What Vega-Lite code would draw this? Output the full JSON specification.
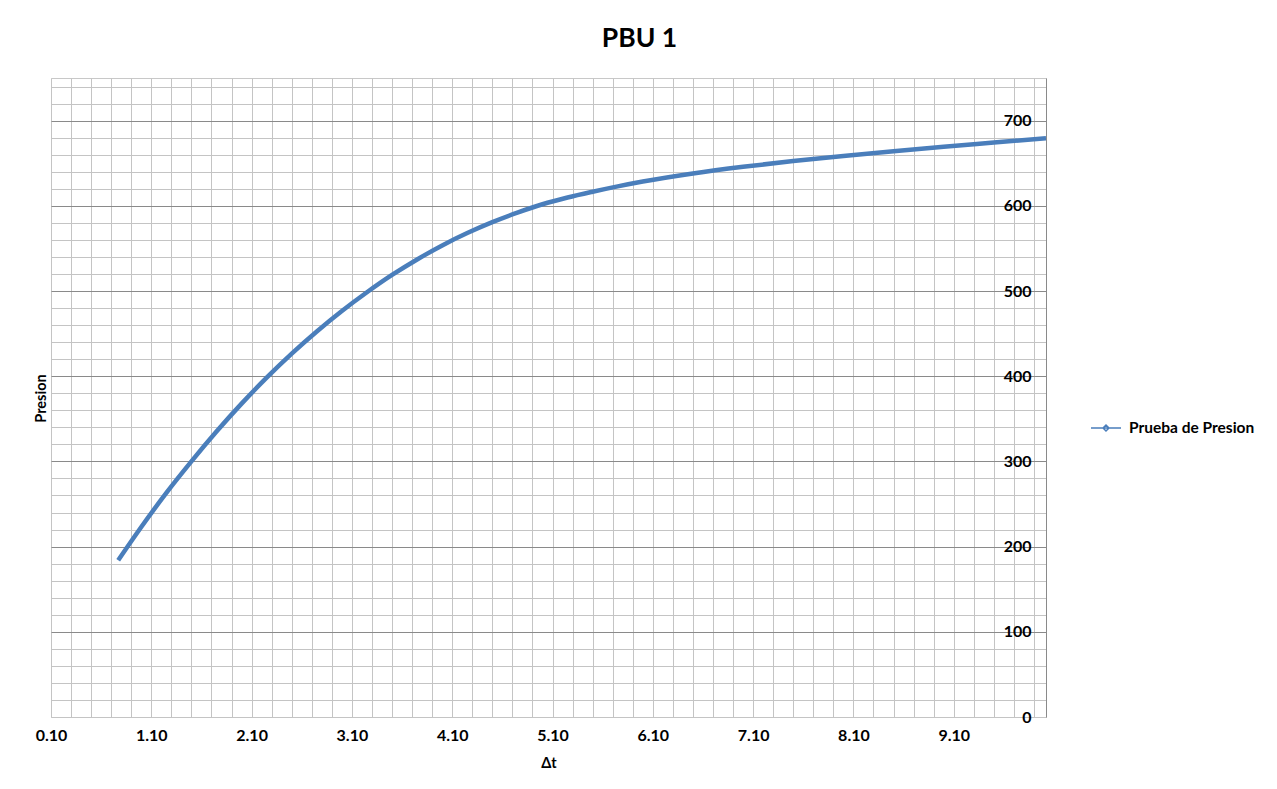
{
  "$schema": "https://vega.github.io/schema/vega-lite/v6.json",
  "width": 995,
  "height": 639,
  "autosize": {"type": "none"},
  "padding": {"left": 51, "top": 78, "right": 231, "bottom": 72},
  "background": "white",
  "title": {
    "text": "PBU 1",
    "font": "Lato",
    "fontSize": 26.5,
    "fontWeight": "bold",
    "color": "#000000",
    "anchor": "middle",
    "dx": 91,
    "offset": 26
  },
  "config": {
    "view": {"stroke": "#c8c8c8", "strokeWidth": 1},
    "axis": {
      "labelFont": "Lato",
      "labelFontWeight": "bold",
      "labelFontSize": 16,
      "labelColor": "#000000",
      "titleFont": "Lato",
      "titleFontWeight": "bold",
      "titleFontSize": 14.5,
      "titleColor": "#000000"
    },
    "legend": {
      "labelFont": "Lato",
      "labelFontWeight": "bold",
      "labelFontSize": 15.5,
      "labelColor": "#000000"
    }
  },
  "data": {
    "values": [
      {"dt": 0.77, "p": 184, "serie": "Prueba de Presion"},
      {"dt": 1.0, "p": 223, "serie": "Prueba de Presion"},
      {"dt": 1.25, "p": 263, "serie": "Prueba de Presion"},
      {"dt": 1.5, "p": 300, "serie": "Prueba de Presion"},
      {"dt": 1.75, "p": 335, "serie": "Prueba de Presion"},
      {"dt": 2.0, "p": 367.8, "serie": "Prueba de Presion"},
      {"dt": 2.25, "p": 398.3, "serie": "Prueba de Presion"},
      {"dt": 2.5, "p": 426.5, "serie": "Prueba de Presion"},
      {"dt": 2.75, "p": 452.5, "serie": "Prueba de Presion"},
      {"dt": 3.0, "p": 476.5, "serie": "Prueba de Presion"},
      {"dt": 3.25, "p": 498.5, "serie": "Prueba de Presion"},
      {"dt": 3.5, "p": 518.8, "serie": "Prueba de Presion"},
      {"dt": 3.75, "p": 537, "serie": "Prueba de Presion"},
      {"dt": 4.0, "p": 553.5, "serie": "Prueba de Presion"},
      {"dt": 4.25, "p": 568, "serie": "Prueba de Presion"},
      {"dt": 4.5, "p": 580.8, "serie": "Prueba de Presion"},
      {"dt": 4.75, "p": 592, "serie": "Prueba de Presion"},
      {"dt": 5.0, "p": 601.8, "serie": "Prueba de Presion"},
      {"dt": 5.25, "p": 609.7, "serie": "Prueba de Presion"},
      {"dt": 5.5, "p": 616.5, "serie": "Prueba de Presion"},
      {"dt": 5.75, "p": 622.8, "serie": "Prueba de Presion"},
      {"dt": 6.0, "p": 628.5, "serie": "Prueba de Presion"},
      {"dt": 6.5, "p": 638, "serie": "Prueba de Presion"},
      {"dt": 7.0, "p": 645.8, "serie": "Prueba de Presion"},
      {"dt": 7.5, "p": 652.5, "serie": "Prueba de Presion"},
      {"dt": 8.0, "p": 658.5, "serie": "Prueba de Presion"},
      {"dt": 8.5, "p": 664, "serie": "Prueba de Presion"},
      {"dt": 9.0, "p": 669.2, "serie": "Prueba de Presion"},
      {"dt": 9.5, "p": 674.2, "serie": "Prueba de Presion"},
      {"dt": 10.02, "p": 679.4, "serie": "Prueba de Presion"}
    ]
  },
  "mark": {"type": "line", "strokeWidth": 4.5, "interpolate": "monotone", "clip": true},
  "encoding": {
    "x": {
      "field": "dt",
      "type": "quantitative",
      "title": "Δt",
      "scale": {"domain": [0.1, 10.02], "nice": false, "zero": false},
      "axis": {
        "values": [0.1,0.3,0.5,0.7,0.9,1.1,1.3,1.5,1.7,1.9,2.1,2.3,2.5,2.7,2.9,3.1,3.3,3.5,3.7,3.9,4.1,4.3,4.5,4.7,4.9,5.1,5.3,5.5,5.7,5.9,6.1,6.3,6.5,6.7,6.9,7.1,7.3,7.5,7.7,7.9,8.1,8.3,8.5,8.7,8.9,9.1,9.3,9.5,9.7,9.9],
        "labelExpr": "round((datum.value - 0.1) * 10) % 10 === 0 ? format(datum.value, '.2f') : ''",
        "grid": true,
        "gridColor": "#c4c4c4",
        "gridWidth": 1,
        "domain": false,
        "ticks": false,
        "labelPadding": 10,
        "labelFlush": false,
        "labelOverlap": false,
        "titlePadding": 13
      }
    },
    "y": {
      "field": "p",
      "type": "quantitative",
      "title": "Presion",
      "scale": {"domain": [0, 750], "nice": false},
      "axis": {
        "orient": "right",
        "values": [0,20,40,60,80,100,120,140,160,180,200,220,240,260,280,300,320,340,360,380,400,420,440,460,480,500,520,540,560,580,600,620,640,660,680,700,720,740],
        "labelExpr": "datum.value % 100 === 0 ? datum.label : ''",
        "grid": true,
        "gridColor": {"condition": {"test": "datum.value % 100 === 0 && datum.value > 0", "value": "#8a8a8a"}, "value": "#c4c4c4"},
        "gridWidth": 1,
        "domain": true,
        "domainColor": "#8a8a8a",
        "ticks": false,
        "labelAlign": "right",
        "labelBaseline": "middle",
        "labelPadding": -15,
        "labelOverlap": false,
        "titleX": -1005,
        "titleY": 320,
        "titleAngle": 270,
        "titleAlign": "center",
        "titleBaseline": "middle"
      }
    },
    "color": {
      "field": "serie",
      "type": "nominal",
      "scale": {"range": ["#4a7ebb"]},
      "legend": {
        "title": null,
        "orient": "none",
        "legendX": 1039,
        "legendY": 334,
        "symbolType": "M-1,0L1,0M-0.2,0L0,-0.2L0.2,0L0,0.2Z",
        "symbolSize": 900,
        "symbolStrokeWidth": 1.5,
        "labelOffset": 7
      }
    }
  }
}
